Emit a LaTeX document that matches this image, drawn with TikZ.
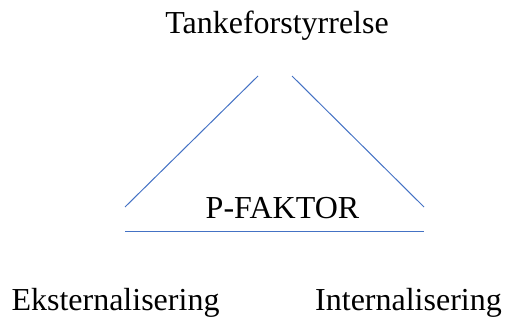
\documentclass[tikz,border=0pt]{standalone}
\usepackage{fontspec}
\setmainfont{Liberation Serif}
\newfontfamily\timesfont{Liberation Serif}
\usepackage{tikz}
\usetikzlibrary{calc}
\definecolor{lineblue}{HTML}{4472C4}
\newcommand{\side}[2]{ \draw[lineblue, line width=1pt] (#1) -- (#2);}
\newcommand{\labltext}[4]{\node[draw=none,fill=none,inner sep=0pt,anchor=base] (#1) at ( #2 , #3 ) {#4};}

\begin{document}
\begin{tikzpicture}[x=1pt,y=1pt,font=\timesfont\fontsize{32}{38}\selectfont]
        \useasboundingbox (0,0) rectangle (505,321);
        % labels
        \labltext{top}{277}{287}{Tankeforstyrrelse}
        \labltext{pfaktor}{282.5}{102}{P-FAKTOR}
        \labltext{ekst}{115.5}{11}{Eksternalisering}
        \labltext{intern}{408.5}{11}{Internalisering}

        % corners
        \coordinate (lbot) at (125,114);
        \coordinate (ltop) at (258,245);
        \coordinate (rtop) at (292,245);
        \coordinate (rbot) at (424,114);
        \coordinate (bl) at (125,89);
        \coordinate (br) at (424,89);

        % sides
        \side{lbot}{ltop}
        \side{rtop}{rbot}
        \side{bl}{br}
\end{tikzpicture}
\end{document}
